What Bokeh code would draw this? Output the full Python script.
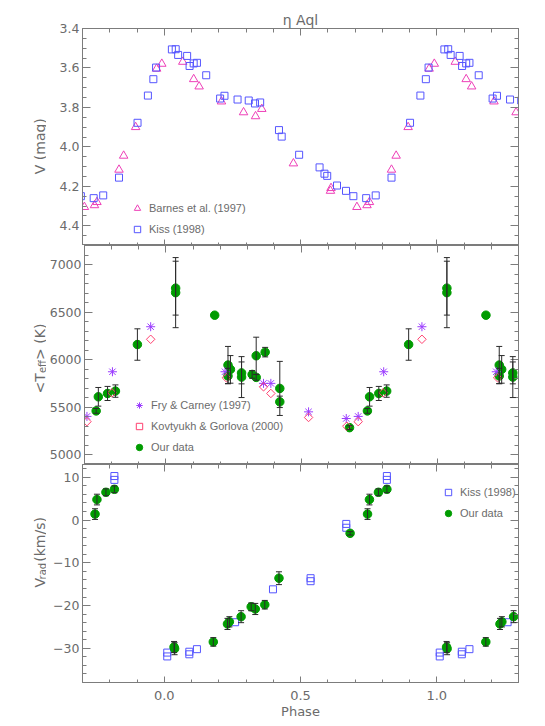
import math
import numpy as np
from bokeh.plotting import figure
from bokeh.layouts import column, row
from bokeh.models import (Range1d, LinearAxis, SingleIntervalTicker, PrintfTickFormatter,
                          ColumnDataSource, Whisker, TeeHead, Label, Legend, LegendItem)
from bokeh.embed import file_html
from bokeh.resources import INLINE

# ---------------- data (phase in [0,1); plotted again at phase-1 and phase+1) ----------------
# Top panel: V magnitude
barnes_phase = [0.068, 0.108, 0.128, 0.210, 0.291, 0.335, 0.358, 0.474, 0.610, 0.612,
                0.707, 0.744, 0.753, 0.834, 0.851, 0.895, 0.972, 0.991]
barnes_v = [3.569, 3.657, 3.694, 3.770, 3.825, 3.845, 3.808, 4.084, 4.223, 4.209,
            4.305, 4.296, 4.280, 4.116, 4.045, 3.900, 3.604, 3.579]
kiss_v_phase = [0.028, 0.042, 0.051, 0.084, 0.093, 0.108, 0.120, 0.154, 0.205, 0.221,
                0.269, 0.310, 0.333, 0.352, 0.421, 0.431, 0.495, 0.570, 0.588, 0.598,
                0.634, 0.667, 0.694, 0.741, 0.776, 0.834, 0.902, 0.940, 0.960, 0.970]
kiss_v = [3.506, 3.505, 3.534, 3.539, 3.590, 3.577, 3.574, 3.637, 3.755, 3.741,
          3.760, 3.765, 3.780, 3.775, 3.915, 3.948, 4.040, 4.104, 4.136, 4.147,
          4.196, 4.223, 4.250, 4.260, 4.246, 4.156, 3.878, 3.740, 3.657, 3.598]

# Middle panel: effective temperature
our_t_phase = [0.036, 0.036, 0.180, 0.229, 0.229, 0.238, 0.279, 0.279, 0.318, 0.333,
               0.333, 0.366, 0.420, 0.420, 0.677, 0.743, 0.751, 0.785, 0.814, 0.895]
our_t = [6752, 6705, 6468, 5944, 5830, 5899, 5862, 5818, 5846, 5815,
         6042, 6080, 5699, 5558, 5287, 5463, 5611, 5646, 5671, 6160]
our_t_err = [283, 368, 0, 196, 80, 145, 115, 215, 40, 30,
             195, 50, 284, 60, 20, 25, 98, 74, 65, 165]
fry_phase = [0.218, 0.360, 0.387, 0.526, 0.665, 0.709, 0.803, 0.944]
fry_t = [5874, 5752, 5752, 5453, 5383, 5405, 5874, 6347]
kov_phase = [0.223, 0.360, 0.387, 0.526, 0.667, 0.709, 0.801, 0.944]
kov_t = [5811, 5716, 5646, 5394, 5302, 5350, 5653, 6215]

# Bottom panel: radial velocity
our_v_phase = [0.036, 0.038, 0.180, 0.232, 0.239, 0.282, 0.319, 0.334, 0.369, 0.421,
               0.682, 0.746, 0.753, 0.786, 0.817]
our_vrad = [-29.7, -30.1, -28.5, -24.3, -23.8, -22.6, -20.3, -20.8, -19.8, -13.6,
            -3.1, 1.4, 4.8, 6.5, 7.2]
our_vrad_err = [1.3, 1.4, 1.0, 1.3, 1.2, 1.4, 0.9, 1.3, 1.0, 1.5,
                0.4, 1.25, 1.25, 0.8, 0.8]
kiss_r_phase = [0.011, 0.011, 0.092, 0.092, 0.120, 0.260, 0.399, 0.537, 0.537,
                0.668, 0.668, 0.817, 0.817]
kiss_vrad = [-31.0, -31.9, -30.8, -31.4, -30.2, -23.9, -16.2, -13.6, -14.3,
             -0.9, -1.8, 10.3, 9.4]

# ---------------- style ----------------
TEXT = "#6b6b6b"
AX = "#7c7c7c"
FONT = "DejaVu Sans"
LFONT = "Liberation Sans"
PINK = "#ee3fb8"
BLUE = "#5555ff"
GREEN = "#009c00"
PURPLE = "#9b3cff"
RED = "#ff4070"
ERR = "#2a2a2a"

XMIN, XMAX = -0.3, 1.3
xr = Range1d(XMIN, XMAX)

LAB_W = 46          # width of the strip that holds the rotated y titles
PAN_W = 494         # width of each panel figure
BORDER_L = 36
BASE_X = 39.0       # baseline of the rotated y titles inside the strip


def replicate(phase, *cols):
    ph = np.asarray(phase, float)
    outp, outc = [], [[] for _ in cols]
    for s in (-1.0, 0.0, 1.0):
        q = ph + s
        m = (q >= XMIN - 0.03) & (q <= XMAX + 0.03)
        outp.append(q[m])
        for i, c in enumerate(cols):
            outc[i].append(np.asarray(c, float)[m])
    return [np.concatenate(outp)] + [np.concatenate(c) for c in outc]


def base_fig(height, yr, top, bottom):
    p = figure(width=PAN_W, height=height, x_range=xr, y_range=yr,
               output_backend="svg", toolbar_location=None, tools="",
               min_border_left=BORDER_L, min_border_right=PAN_W - BORDER_L - 436,
               min_border_top=top, min_border_bottom=bottom)
    p.xgrid.visible = False
    p.ygrid.visible = False
    p.outline_line_color = AX
    p.background_fill_color = "white"
    p.border_fill_color = "white"
    return p


def style_axis(ax, labels, maj, mnr):
    ax.axis_line_color = AX
    ax.major_tick_line_color = AX
    ax.minor_tick_line_color = AX
    ax.major_tick_in = maj
    ax.major_tick_out = 0
    ax.minor_tick_in = mnr
    ax.minor_tick_out = 0
    ax.axis_label = None
    if labels:
        ax.major_label_text_font = FONT
        ax.major_label_text_font_size = "12.5px"
        ax.major_label_text_color = TEXT
        ax.major_label_standoff = 3
    else:
        ax.major_label_text_font_size = "0px"
        ax.major_label_text_color = None
        ax.major_label_standoff = 0


def setup_axes(p, yint, ynminor, yfmt, xlabels, overrides=None):
    xb = p.xaxis[0]
    xb.ticker = SingleIntervalTicker(interval=0.5, num_minor_ticks=5)
    xb.formatter = PrintfTickFormatter(format="%.1f")
    style_axis(xb, xlabels, 6, 3)
    if xlabels:
        xb.major_label_standoff = 8
        xb.major_label_text_font_size = "13px"
    xa = LinearAxis(ticker=SingleIntervalTicker(interval=0.5, num_minor_ticks=5))
    p.add_layout(xa, "above")
    style_axis(xa, False, 7, 4)
    yl = p.yaxis[0]
    yl.ticker = SingleIntervalTicker(interval=yint, num_minor_ticks=ynminor)
    yl.formatter = PrintfTickFormatter(format=yfmt)
    if overrides:
        yl.major_label_overrides = overrides
    style_axis(yl, True, 8, 4)
    yrax = LinearAxis(ticker=SingleIntervalTicker(interval=yint, num_minor_ticks=ynminor))
    p.add_layout(yrax, "right")
    style_axis(yrax, False, 8, 4)
    return xb


# approximate DejaVu Sans advance widths (em)
CW = {'<': 0.838, '>': 0.838, 'T': 0.611, 'e': 0.615, 'f': 0.352, ' ': 0.318,
      '(': 0.390, ')': 0.390, 'K': 0.656, 'V': 0.684, 'r': 0.411, 'a': 0.613,
      'd': 0.635, 'k': 0.579, 'm': 0.974, '/': 0.337, 's': 0.521, 'g': 0.635}


def tw(s, size):
    return sum(CW.get(c, 0.6) for c in s) * size


def label_fig(height, yc, parts):
    """Narrow strip left of a panel carrying its rotated y title (with subscripts)."""
    f = figure(width=LAB_W, height=height, x_range=Range1d(0, LAB_W),
               y_range=Range1d(0, height), output_backend="svg",
               toolbar_location=None, tools="", min_border=0,
               x_axis_location=None, y_axis_location=None)
    f.outline_line_color = None
    f.xgrid.visible = False
    f.ygrid.visible = False
    f.background_fill_color = "white"
    f.border_fill_color = "white"
    total = sum(tw(t, s) for t, s, _ in parts)
    off = yc - total / 2
    for t, s, sub in parts:
        lead = len(t) - len(t.lstrip())
        f.add_layout(Label(x=BASE_X + (2.5 if sub else 0), y=off + tw(" ", s) * lead,
                           text=t.strip(), angle=math.pi / 2, text_align="left",
                           text_baseline="alphabetic", text_font=FONT,
                           text_font_size=f"{s}px", text_color=TEXT))
        off += tw(t, s)
    return f


def legend(p, items, loc):
    lg = Legend(items=items, location=loc, orientation="vertical",
                border_line_color=None, background_fill_alpha=0,
                padding=0, margin=0, spacing=5, glyph_width=16, glyph_height=16,
                label_height=16, label_standoff=4,
                label_text_font=LFONT, label_text_font_size="11px",
                label_text_color=TEXT)
    p.add_layout(lg)


def whiskers(p, x, y, e):
    x = np.asarray(x); y = np.asarray(y); e = np.asarray(e)
    m = e > 0
    src = ColumnDataSource(dict(x=x[m], lower=(y - e)[m], upper=(y + e)[m]))
    w = Whisker(base="x", lower="lower", upper="upper", source=src, dimension="height",
                line_color=ERR, line_width=1, level="overlay",
                upper_head=TeeHead(size=6, line_color=ERR, line_width=1),
                lower_head=TeeHead(size=6, line_color=ERR, line_width=1))
    p.add_layout(w)


H1, H2, H3 = 245, 219, 260

# ---------------- panel 1: V ----------------
p1 = base_fig(H1, Range1d(4.5, 3.4), 28, 0)
setup_axes(p1, 0.2, 4, "%.1f", False)
p1.title.text = "η Aql"
p1.title.align = "center"
p1.title.text_font = FONT
p1.title.text_font_size = "14px"
p1.title.text_font_style = "normal"
p1.title.text_color = TEXT
p1.title.standoff = 2
bx, by = replicate(barnes_phase, barnes_v)
kx, ky = replicate(kiss_v_phase, kiss_v)
r_b = p1.scatter(bx, by, marker="triangle", size=8.5, fill_color=None,
                 line_color=PINK, line_width=1)
r_k = p1.scatter(kx, ky, marker="square", size=7, fill_color=None,
                 line_color=BLUE, line_width=1)
legend(p1, [LegendItem(label="Barnes et al. (1997)", renderers=[r_b]),
            LegendItem(label="Kiss (1998)", renderers=[r_k])], (47, 8))
l1 = label_fig(H1, 108.5, [("V (mag)", 14, False)])

# ---------------- panel 2: Teff ----------------
p2 = base_fig(H2, Range1d(4900, 7200), 0, 0)
setup_axes(p2, 500, 5, "%d", False)
gx, gy, ge = replicate(our_t_phase, our_t, our_t_err)
fx, fy = replicate(fry_phase, fry_t)
vx, vy = replicate(kov_phase, kov_t)
r_g2 = p2.scatter(gx, gy, marker="circle", size=8.5, fill_color=GREEN, line_color=GREEN)
r_f = p2.scatter(fx, fy, marker="asterisk", size=9, line_color=PURPLE, line_width=1)
r_v = p2.scatter(vx, vy, marker="square", angle=math.pi / 4, size=6, fill_color=None,
                 line_color=RED, line_width=1)
whiskers(p2, gx, gy, ge)
legend(p2, [LegendItem(label="Fry & Carney (1997)", renderers=[r_f]),
            LegendItem(label="Kovtyukh & Gorlova (2000)", renderers=[r_v]),
            LegendItem(label="Our data", renderers=[r_g2])], (47, 9))
l2 = label_fig(H2, 106, [("<T", 14, False), ("eff", 10, True), ("> (K)", 14, False)])

# ---------------- panel 3: Vrad ----------------
p3 = base_fig(H3, Range1d(-38, 13), 0, H3 - 218)
xb3 = setup_axes(p3, 10, 5, "%d", True, overrides={-10: "−10", -20: "−20", -30: "−30"})
xb3.axis_label = "Phase"
xb3.axis_label_text_font = FONT
xb3.axis_label_text_font_size = "13px"
xb3.axis_label_text_font_style = "normal"
xb3.axis_label_text_color = TEXT
xb3.axis_label_standoff = 1
qx, qy, qe = replicate(our_v_phase, our_vrad, our_vrad_err)
sx, sy = replicate(kiss_r_phase, kiss_vrad)
r_k3 = p3.scatter(sx, sy, marker="square", size=7, fill_color=None,
                  line_color=BLUE, line_width=1)
r_g3 = p3.scatter(qx, qy, marker="circle", size=8.5, fill_color=GREEN, line_color=GREEN)
whiskers(p3, qx, qy, qe)
legend(p3, [LegendItem(label="Kiss (1998)", renderers=[r_k3]),
            LegendItem(label="Our data", renderers=[r_g3])], (358, 161))
l3 = label_fig(H3, (H3 - 218) + 109, [("V", 14, False), ("rad", 10, True),
                                      (" (km/s)", 14, False)])

layout = column(row(l1, p1, spacing=0), row(l2, p2, spacing=0),
                row(l3, p3, spacing=0), spacing=0)
open("out.html", "w").write(file_html(layout, INLINE))
